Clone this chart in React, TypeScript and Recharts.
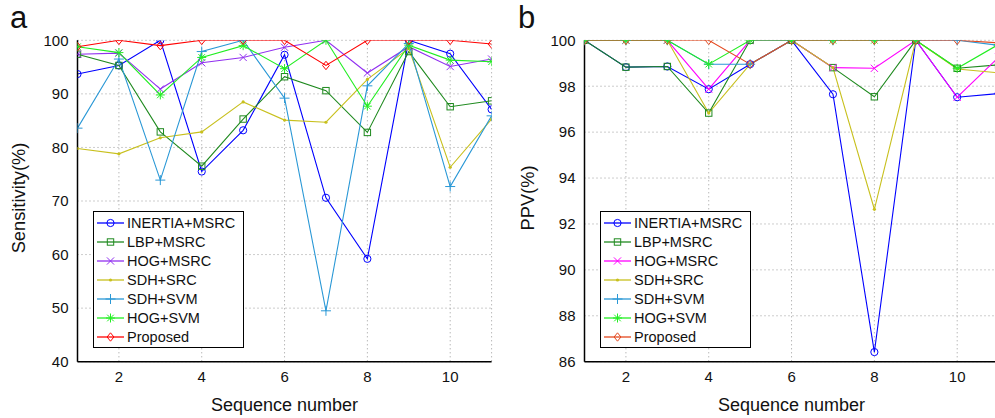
import React from 'react';
import { LineChart, Line, XAxis, YAxis, CartesianGrid } from 'recharts';

const sequence = [1, 2, 3, 4, 5, 6, 7, 8, 9, 10, 11];
const seriesNames = ['INERTIA+MSRC', 'LBP+MSRC', 'HOG+MSRC', 'SDH+SRC', 'SDH+SVM', 'HOG+SVM', 'Proposed'];
const xTicks = [2, 4, 6, 8, 10];
const sensTicks = [40, 50, 60, 70, 80, 90, 100];
const ppvTicks = [86, 88, 90, 92, 94, 96, 98, 100];

// Sensitivity (%)
const sensInertia = [93.7, 95.3, 100, 75.5, 83.2, 97.3, 70.6, 59.2, 100, 97.5, 87.1];
const sensLbp = [97.4, 95.3, 82.9, 76.5, 85.3, 93.2, 90.6, 82.8, 97.9, 87.6, 88.7];
const sensHogMsrc = [97.4, 97.6, 90.9, 95.8, 96.8, 98.7, 100, 93.9, 98.8, 95.1, 96.5];
const sensSdhSrc = [79.8, 78.8, 81.8, 82.9, 88.5, 85.1, 84.7, 92.7, 98.5, 76.3, 85.3];
const sensSdhSvm = [83.6, 96.5, 73.9, 97.9, 100, 89.2, 49.5, 91.5, 99.4, 72.7, 85.9];
const sensHogSvm = [98.8, 97.7, 89.8, 96.8, 99.0, 94.7, 100, 87.7, 99.1, 96.3, 96.0];
const sensProposed = [98.8, 100, 99.0, 100, 100, 100, 95.3, 100, 100, 100, 99.3];

// PPV (%)
const ppvInertia = [100, 98.83, 98.86, 97.87, 98.96, 100, 97.65, 86.42, 100, 97.52, 97.68];
const ppvLbp = [100, 98.83, 98.86, 96.83, 100, 100, 98.81, 97.54, 100, 98.78, 98.93];
const ppvHogMsrc = [100, 100, 100, 97.87, 100, 100, 98.81, 98.78, 100, 97.52, 99.26];
const ppvSdhSrc = [100, 100, 100, 96.83, 98.96, 100, 98.81, 92.64, 100, 98.75, 98.58];
const ppvSdhSvm = [100, 100, 100, 98.96, 98.96, 100, 100, 100, 100, 100, 99.78];
const ppvHogSvm = [100, 100, 100, 98.96, 100, 100, 100, 100, 100, 98.78, 99.82];
const ppvProposed = [100, 100, 100, 100, 98.96, 100, 100, 100, 100, 100, 99.89];

const shapes = ['circle', 'square', 'cross', 'dot', 'plus', 'asterisk', 'diamond'];
const colorsA = ['#0000ff', '#1f8a1f', '#9130f0', '#c8c01e', '#2a98d6', '#22ee22', '#ff0000'];
const colorsB = ['#0000ff', '#1f8a1f', '#ff00ff', '#c8c01e', '#2a98d6', '#22ee22', '#e4481e'];

const FONT = '"Liberation Sans", Arial, Helvetica, sans-serif';

function Marker({ shape, cx, cy, color }: { shape: string; cx: number; cy: number; color: string }) {
  const sw = 1;
  switch (shape) {
    case 'circle':
      return <circle cx={cx} cy={cy} r={3.6} fill="none" stroke={color} strokeWidth={sw} />;
    case 'square':
      return <rect x={cx - 3.2} y={cy - 3.2} width={6.4} height={6.4} fill="none" stroke={color} strokeWidth={sw} />;
    case 'cross':
      return (
        <g stroke={color} strokeWidth={sw}>
          <line x1={cx - 3.6} y1={cy - 3.6} x2={cx + 3.6} y2={cy + 3.6} />
          <line x1={cx - 3.6} y1={cy + 3.6} x2={cx + 3.6} y2={cy - 3.6} />
        </g>
      );
    case 'dot':
      return <circle cx={cx} cy={cy} r={1.6} fill={color} stroke="none" />;
    case 'plus':
      return (
        <g stroke={color} strokeWidth={sw}>
          <line x1={cx - 5} y1={cy} x2={cx + 5} y2={cy} />
          <line x1={cx} y1={cy - 5} x2={cx} y2={cy + 5} />
        </g>
      );
    case 'asterisk':
      return (
        <g stroke={color} strokeWidth={sw}>
          <line x1={cx - 4.5} y1={cy} x2={cx + 4.5} y2={cy} />
          <line x1={cx} y1={cy - 4.5} x2={cx} y2={cy + 4.5} />
          <line x1={cx - 3.3} y1={cy - 3.3} x2={cx + 3.3} y2={cy + 3.3} />
          <line x1={cx - 3.3} y1={cy + 3.3} x2={cx + 3.3} y2={cy - 3.3} />
        </g>
      );
    case 'diamond':
    default:
      return (
        <polygon
          points={`${cx},${cy - 4.2} ${cx + 3.4},${cy} ${cx},${cy + 4.2} ${cx - 3.4},${cy}`}
          fill="none"
          stroke={color}
          strokeWidth={sw}
        />
      );
  }
}

function makeDot(shape: string, color: string) {
  return (props: any) => {
    const { cx, cy, index } = props;
    if (cx == null || cy == null) return <g key={`n-${index}`} />;
    return (
      <g key={`d-${shape}-${index}`}>
        <Marker shape={shape} cx={cx} cy={cy} color={color} />
      </g>
    );
  };
}

function LegendBox({ colors }: { colors: string[] }) {
  return (
    <div
      style={{
        position: 'absolute',
        left: 93,
        top: 211,
        width: 149,
        height: 133,
        border: '1.5px solid #000',
        background: '#fff',
        boxSizing: 'content-box',
        paddingTop: 2,
        fontFamily: FONT,
      }}
    >
      {seriesNames.map((name, i) => (
        <div key={name} style={{ display: 'flex', alignItems: 'center', height: 18.9 }}>
          <svg width={33} height={18} style={{ flex: 'none' }}>
            <line x1={3} y1={9} x2={30} y2={9} stroke={colors[i]} strokeWidth={1.3} />
            <Marker shape={shapes[i]} cx={16.5} cy={9} color={colors[i]} />
          </svg>
          <span style={{ fontSize: 14.5, color: '#111', whiteSpace: 'nowrap', lineHeight: '18px' }}>{name}</span>
        </div>
      ))}
    </div>
  );
}

function buildRows(series: number[][]) {
  return sequence.map((s, i) => {
    const row: any = { seq: s };
    series.forEach((vals, k) => {
      row[`s${k}`] = vals[i];
    });
    return row;
  });
}

const sensRows = buildRows([sensInertia, sensLbp, sensHogMsrc, sensSdhSrc, sensSdhSvm, sensHogSvm, sensProposed]);
const ppvRows = buildRows([ppvInertia, ppvLbp, ppvHogMsrc, ppvSdhSrc, ppvSdhSvm, ppvHogSvm, ppvProposed]);

function Panel({
  rows,
  colors,
  yDomain,
  yTicks,
  yLabel,
  letter,
  yLabelX,
}: {
  rows: any[];
  colors: string[];
  yDomain: [number, number];
  yTicks: number[];
  yLabel: string;
  letter: string;
  yLabelX: number;
}) {
  const tickStyle = { fontSize: 15, fill: '#111', fontFamily: FONT };
  return (
    <div style={{ position: 'relative', width: 500, height: 418 }}>
      <LineChart width={500} height={418} data={rows} margin={{ top: 40.3, right: 8.4, bottom: 26.3, left: 17.5 }}>
        <CartesianGrid stroke="#9a9a9a" strokeDasharray="1 3" strokeWidth={1} />
        <XAxis
          dataKey="seq"
          type="number"
          domain={[1, 11]}
          ticks={xTicks}
          allowDataOverflow
          height={30}
          stroke="#000"
          strokeWidth={1.5}
          tickLine={false}
          tickSize={6}
          tickMargin={4}
          tick={tickStyle}
        />
        <XAxis
          xAxisId="top"
          dataKey="seq"
          type="number"
          domain={[1, 11]}
          orientation="top"
          height={0}
          tick={false}
          tickLine={false}
          stroke="#000"
          strokeWidth={1.5}
        />
        <YAxis
          type="number"
          domain={yDomain}
          ticks={yTicks}
          allowDataOverflow
          width={60}
          stroke="#000"
          strokeWidth={1.5}
          tickLine={false}
          tickSize={6}
          tickMargin={3}
          tick={tickStyle}
        />
        <YAxis
          yAxisId="right"
          type="number"
          domain={yDomain}
          orientation="right"
          width={0}
          tick={false}
          tickLine={false}
          stroke="#000"
          strokeWidth={1.5}
        />
        {seriesNames.map((name, k) => (
          <Line
            key={name}
            name={name}
            dataKey={`s${k}`}
            type="linear"
            stroke={colors[k]}
            strokeWidth={1.1}
            dot={makeDot(shapes[k], colors[k])}
            activeDot={false}
            isAnimationActive={false}
          />
        ))}
      </LineChart>
      <LegendBox colors={colors} />
      <div
        style={{
          position: 'absolute',
          left: letter === 'a' ? 10 : 11,
          top: 2,
          fontSize: 31,
          lineHeight: '31px',
          fontFamily: FONT,
          color: '#111',
        }}
      >
        {letter}
      </div>
      <div
        style={{
          position: 'absolute',
          left: yLabelX,
          top: 198,
          transform: 'translate(-50%, -50%) rotate(-90deg)',
          fontSize: 18.3,
          lineHeight: '18px',
          whiteSpace: 'nowrap',
          fontFamily: FONT,
          color: '#111',
        }}
      >
        {yLabel}
      </div>
      <div
        style={{
          position: 'absolute',
          left: 284.5,
          top: 395.5,
          transform: 'translateX(-50%)',
          fontSize: 18,
          lineHeight: '18px',
          whiteSpace: 'nowrap',
          fontFamily: FONT,
          color: '#111',
        }}
      >
        Sequence number
      </div>
    </div>
  );
}

export default function App() {
  return (
    <div
      style={{
        position: 'absolute',
        left: 0,
        top: 0,
        width: 995,
        height: 418,
        overflow: 'hidden',
        background: '#fff',
      }}
    >
      <div style={{ position: 'absolute', left: 0, top: 0 }}>
        <Panel
          rows={sensRows}
          colors={colorsA}
          yDomain={[40, 100]}
          yTicks={sensTicks}
          yLabel="Sensitivity(%)"
          letter="a"
          yLabelX={18.5}
        />
      </div>
      <div style={{ position: 'absolute', left: 507, top: 0 }}>
        <Panel
          rows={ppvRows}
          colors={colorsB}
          yDomain={[86, 100]}
          yTicks={ppvTicks}
          yLabel="PPV(%)"
          letter="b"
          yLabelX={20.5}
        />
      </div>
    </div>
  );
}
